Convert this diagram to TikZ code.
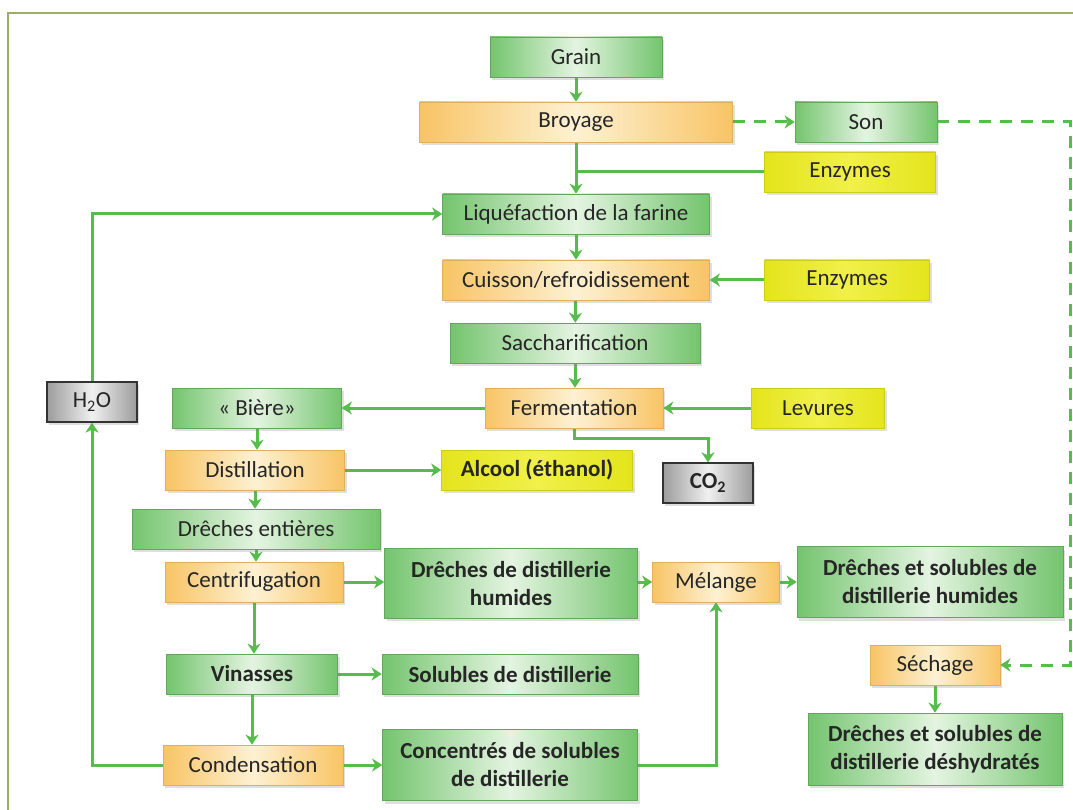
\documentclass[tikz,border=0pt]{standalone}
\usepackage{fontspec}
\setmainfont{Carlito}
\usetikzlibrary{arrows.meta,shadows,backgrounds}
\definecolor{grn}{HTML}{74C46E}
\definecolor{grnlight}{HTML}{E4F4E1}
\definecolor{org}{HTML}{F8C465}
\definecolor{orglight}{HTML}{FDF1D2}
\definecolor{ylw}{HTML}{E4E41C}
\definecolor{ylwlight}{HTML}{F0F04A}
\definecolor{gry}{HTML}{9C9C9C}
\definecolor{grylight}{HTML}{F0F0F0}
\definecolor{lnk}{HTML}{56BC4B}
\definecolor{frame}{HTML}{9CAF5E}
\definecolor{txt}{HTML}{262626}
\newcommand{\boxfont}{\fontsize{23}{28}\selectfont}

\tikzset{
    box/.style={minimum height=40pt, inner sep=2pt, align=center, text=txt,
                font=\boxfont, line width=0.6pt,
                drop shadow={opacity=0.25, shadow xshift=2pt, shadow yshift=-3pt}},
    grnbox/.style={box, draw=grn!85!black, left color=grn, right color=grn, middle color=grnlight},
    orgbox/.style={box, draw=org!90!black, left color=org, right color=org, middle color=orglight},
    ylwbox/.style={box, draw=ylw!90!black, left color=ylw, right color=ylw, middle color=ylwlight},
    grybox/.style={box, draw=black!80, line width=1.2pt, left color=gry, right color=gry, middle color=grylight},
    bold/.style={font=\boxfont\bfseries},
    flow/.style={draw=lnk, line width=3pt, -{Stealth[length=10pt,width=13pt,inset=3pt]}},
    link/.style={draw=lnk, line width=3pt},
    dashflow/.style={flow, dash pattern=on 12pt off 9pt}
}

\begin{document}
\begin{tikzpicture}[x=1pt,y=-1pt]
            \useasboundingbox (0,0) rectangle (1073,810);
            \draw[frame, line width=2pt] (8,810) -- (8,13) -- (1073,13);

            % main line
            \node[grnbox, minimum width=172pt] (grain) at (576,57) {Grain};
            \node[orgbox, minimum width=313pt] (broy) at (576,122) {Broyage};
            \node[grnbox, minimum width=142pt] (son) at (866,122) {Son};
            \node[ylwbox, minimum width=171pt] (enz1) at (850,172) {Enzymes};
            \node[grnbox, minimum width=267pt] (liq) at (576,214) {Liquéfaction de la farine};
            \node[orgbox, minimum width=267pt] (cuis) at (576,280) {Cuisson/refroidissement};
            \node[ylwbox, minimum width=165pt] (enz2) at (847,280) {Enzymes};
            \node[grnbox, minimum width=250pt] (sacc) at (575,343) {Saccharification};
            \node[grybox, minimum width=90pt] (h2o) at (92,402) {H\textsubscript{2}O};
            \node[grnbox, minimum width=169pt] (biere) at (257,408) {« Bière»};
            \node[orgbox, minimum width=178pt] (ferm) at (574,408) {Fermentation};
            \node[ylwbox, minimum width=133pt] (lev) at (818,408) {Levures};
            \node[orgbox, minimum width=179pt] (dist) at (255,470) {Distillation};
            \node[ylwbox, bold, minimum width=191pt] (alc) at (537,470) {Alcool (éthanol)};
            \node[grybox, bold, minimum width=90pt] (co2) at (708,483) {CO\textsubscript{2}};

            % by-products
            \node[grnbox, minimum width=248pt] (dent) at (256,529) {Drêches entières};
            \node[orgbox, minimum width=178pt] (cent) at (254,582) {Centrifugation};
            \node[grnbox, bold, minimum width=253pt, minimum height=70pt] (dhum) at (511,583) {Drêches de distillerie\\humides};
            \node[orgbox, minimum width=127pt] (mel) at (716,582) {Mélange};
            \node[grnbox, bold, minimum width=266pt, minimum height=71pt] (dsh) at (930,582) {Drêches et solubles de\\distillerie humides};
            \node[orgbox, minimum width=130pt] (sech) at (935,665) {Séchage};
            \node[grnbox, bold, minimum width=254pt, minimum height=72pt] (dsd) at (935,749) {Drêches et solubles de\\distillerie déshydratés};
            \node[grnbox, bold, minimum width=171pt] (vin) at (252,674) {Vinasses};
            \node[grnbox, bold, minimum width=256pt] (sol) at (510,674) {Solubles de distillerie};
            \node[orgbox, minimum width=180pt] (cond) at (253,765) {Condensation};
            \node[grnbox, bold, minimum width=255pt, minimum height=71pt] (conc) at (510,765) {Concentrés de solubles\\de distillerie};

            % connectors
            \begin{scope}[on background layer]
                \draw[flow] (grain) -- (broy);
                \draw[flow] (broy) -- (liq);
                \draw[link] (enz1.west) -- (enz1.west -| broy.south);
                \draw[dashflow] (broy.east) -- (son.west);
                \draw[dashflow] (son.east) -- ++(133,0) |- (sech.east);
                \draw[flow] (h2o.north) |- (liq.west);
                \draw[flow] (liq) -- (cuis);
                \draw[flow] (enz2) -- (cuis);
                \draw[flow] (cuis) -- (sacc);
                \draw[flow] (sacc.south) -- (sacc.south |- ferm.north);
                \draw[flow] (lev) -- (ferm);
                \draw[flow] (ferm) -- (biere);
                \draw[flow] (ferm.south) -- ++(0,10) -| (co2.north);
                \draw[flow] (biere.south) -- (biere.south |- dist.north);
                \draw[flow] (dist) -- (alc);
                \draw[flow] (dist.south) -- (dist.south |- dent.north);
                \draw[flow] (dent.south) -- (dent.south |- cent.north);
                \draw[flow] (cent) -- (cent -| dhum.west);
                \draw[flow] (cent.south) -- (cent.south |- vin.north);
                \draw[flow] (dhum.east |- mel) -- (mel);
                \draw[flow] (mel) -- (mel -| dsh.west);
                \draw[flow] (vin) -- (sol);
                \draw[flow] (vin.south) -- (vin.south |- cond.north);
                \draw[flow] (cond) -- (cond -| conc.west);
                \draw[flow] (conc.east |- cond) -| (mel.south);
                \draw[flow] (cond.west) -| (h2o.south);
                \draw[flow] (sech.south) -- (sech.south |- dsd.north);
            \end{scope}
    \end{tikzpicture}
\end{document}
